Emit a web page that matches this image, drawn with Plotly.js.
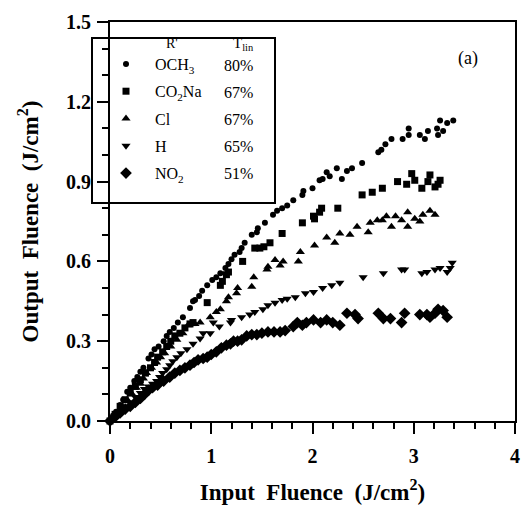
<!DOCTYPE html>
<html>
<head>
<meta charset="utf-8">
<script src="https://cdn.plot.ly/plotly-3.0.1.min.js"></script>
<style>html,body{margin:0;padding:0;background:#fff;}#chart{width:521px;height:512px;}</style>
</head>
<body>
<div id="chart"></div>
<script>
// ---- data ----
const och3X = [0,0.03,0.06,0.1,0.13,0.17,0.2,0.24,0.27,0.3,0.33,0.38,0.41,0.44,0.48,0.53,0.56,0.59,0.63,0.67,0.72,0.79,0.82,0.84,0.88,0.91,0.96,1.01,1.05,1.09,1.14,1.17,1.2,1.23,1.28,1.3,1.33,1.4,1.45,1.46,1.53,1.61,1.65,1.7,1.75,1.81,1.9,1.91,2.0,2.07,2.1,2.14,2.17,2.24,2.29,2.34,2.39,2.49,2.65,2.68,2.72,2.78,2.89,2.95,2.95,3.06,3.11,3.14,3.23,3.24,3.26,3.29,3.33,3.39];
const och3Y = [0,0.02,0.035,0.06,0.08,0.11,0.125,0.15,0.165,0.185,0.2,0.235,0.25,0.27,0.28,0.3,0.32,0.335,0.35,0.37,0.39,0.425,0.45,0.455,0.47,0.49,0.51,0.53,0.54,0.555,0.575,0.59,0.608,0.625,0.635,0.65,0.67,0.7,0.71,0.725,0.745,0.775,0.79,0.8,0.81,0.83,0.85,0.865,0.875,0.905,0.91,0.935,0.92,0.95,0.91,0.94,0.95,0.97,1.01,1.02,1.04,1.06,1.06,1.075,1.1,1.075,1.06,1.09,1.1,1.075,1.13,1.09,1.12,1.13];

const co2naX = [0,0.05,0.1,0.15,0.2,0.25,0.3,0.35,0.4,0.44,0.47,0.52,0.56,0.6,0.64,0.69,0.74,0.79,0.82,0.96,1.09,1.11,1.15,1.17,1.31,1.43,1.48,1.52,1.58,1.7,1.9,2.01,2.02,2.07,2.09,2.25,2.49,2.59,2.69,2.84,2.93,2.98,3.01,3.08,3.14,3.16,3.21,3.24,3.26];
const co2naY = [0,0.025,0.055,0.08,0.105,0.13,0.155,0.18,0.2,0.22,0.24,0.26,0.28,0.3,0.32,0.33,0.35,0.365,0.37,0.445,0.51,0.525,0.55,0.56,0.6,0.65,0.65,0.655,0.67,0.705,0.745,0.77,0.76,0.785,0.8,0.8,0.85,0.86,0.875,0.9,0.89,0.93,0.905,0.875,0.9,0.925,0.88,0.89,0.905];

const clX = [0,0.06,0.12,0.17,0.21,0.26,0.3,0.33,0.36,0.41,0.46,0.5,0.54,0.6,0.66,0.72,0.77,0.84,0.89,0.99,1.05,1.09,1.15,1.17,1.25,1.26,1.4,1.42,1.55,1.56,1.63,1.68,1.71,1.86,1.88,2.02,2.14,2.22,2.27,2.37,2.44,2.55,2.57,2.64,2.69,2.73,2.78,2.82,2.88,2.94,2.94,3.01,3.06,3.09,3.16,3.21];
const clY = [0,0.03,0.055,0.08,0.105,0.125,0.14,0.16,0.18,0.2,0.22,0.24,0.255,0.28,0.305,0.33,0.36,0.365,0.37,0.39,0.41,0.42,0.45,0.465,0.48,0.5,0.505,0.54,0.57,0.58,0.605,0.585,0.6,0.6,0.635,0.66,0.69,0.67,0.705,0.7,0.73,0.71,0.745,0.755,0.755,0.77,0.73,0.77,0.755,0.73,0.785,0.76,0.75,0.775,0.79,0.775];

const hX = [0,0.05,0.1,0.15,0.2,0.25,0.3,0.34,0.38,0.42,0.46,0.49,0.52,0.56,0.59,0.62,0.66,0.7,0.76,0.82,0.89,0.92,0.99,1.02,1.08,1.19,1.2,1.3,1.38,1.43,1.51,1.56,1.63,1.7,1.75,1.83,1.93,2.01,2.1,2.19,2.27,2.5,2.7,2.88,2.91,3.08,3.13,3.21,3.26,3.33,3.36,3.38];
const hY = [0,0.02,0.035,0.05,0.07,0.09,0.105,0.12,0.13,0.14,0.15,0.165,0.18,0.195,0.21,0.225,0.24,0.255,0.27,0.29,0.31,0.33,0.33,0.37,0.355,0.37,0.38,0.39,0.4,0.41,0.42,0.435,0.445,0.455,0.46,0.465,0.48,0.485,0.5,0.51,0.52,0.54,0.555,0.57,0.57,0.555,0.56,0.57,0.575,0.56,0.575,0.595];

const no2X = [0,0.05,0.1,0.15,0.2,0.25,0.3,0.34,0.38,0.42,0.47,0.53,0.59,0.64,0.69,0.74,0.79,0.83,0.87,0.92,0.96,1.0,1.05,1.1,1.15,1.19,1.22,1.26,1.3,1.35,1.4,1.45,1.5,1.56,1.62,1.68,1.73,1.81,1.85,1.9,1.94,2.01,2.08,2.14,2.2,2.27,2.34,2.42,2.45,2.65,2.7,2.77,2.88,2.91,3.06,3.13,3.16,3.21,3.24,3.29,3.33];
const no2Y = [0,0.015,0.03,0.045,0.055,0.07,0.085,0.1,0.115,0.125,0.135,0.15,0.165,0.18,0.19,0.2,0.21,0.22,0.23,0.235,0.24,0.25,0.26,0.275,0.285,0.29,0.3,0.3,0.305,0.32,0.325,0.325,0.33,0.335,0.335,0.335,0.34,0.355,0.37,0.36,0.37,0.38,0.37,0.38,0.37,0.36,0.405,0.4,0.385,0.405,0.385,0.385,0.37,0.405,0.4,0.4,0.39,0.405,0.42,0.415,0.39];

const seriesNames = ['OCH<sub>3</sub>', 'CO<sub>2</sub>Na', 'Cl', 'H', 'NO<sub>2</sub>'];
const tlinLabels = ['80%', '67%', '67%', '65%', '51%'];
const legendHeader = ["R'", 'T<sub>lin</sub>'];
const xTickVals = [0, 1, 2, 3, 4];
const yTickVals = [0, 0.3, 0.6, 0.9, 1.2, 1.5];

// ---- styles ----
const serif = '"Times New Roman", "Liberation Serif", serif';
const symbols = ['circle', 'square', 'triangle-up', 'triangle-down', 'diamond'];
const sizes = [6, 7, 8, 8, 9];
const xs = [och3X, co2naX, clX, hX, no2X];
const ys = [och3Y, co2naY, clY, hY, no2Y];

const traces = xs.map((x, i) => ({
  type: 'scatter', mode: 'markers', x: x, y: ys[i], name: seriesNames[i],
  legendgroup: 'g' + i, cliponaxis: false,
  marker: {symbol: symbols[i], size: sizes[i], color: '#000', line: {width: 0}}
}));

// plot area in pixels: x 110..515, y 22..421
const L = 110, R = 515, T = 22, B = 421;
const px = v => (v - L) / (R - L);
const py = v => (B - v) / (B - T);

const annotations = [];
annotations.push({xref: 'paper', yref: 'paper', x: px(172), y: py(43), text: legendHeader[0], showarrow: false,
  font: {family: serif, size: 14, color: '#000'}, xanchor: 'center', yanchor: 'middle'});
annotations.push({xref: 'paper', yref: 'paper', x: px(243), y: py(44), text: legendHeader[1], showarrow: false,
  font: {family: serif, size: 15, color: '#000'}, xanchor: 'center', yanchor: 'middle'});
const rowY = [65, 92, 119, 146, 173];
tlinLabels.forEach((t, i) => annotations.push({xref: 'paper', yref: 'paper', x: px(255), y: py(rowY[i]), text: t,
  showarrow: false, font: {family: serif, size: 16, color: '#000'}, xanchor: 'right', yanchor: 'middle'}));
annotations.push({xref: 'paper', yref: 'paper', x: px(468), y: py(58), text: '(a)', showarrow: false,
  font: {family: serif, size: 18, color: '#000'}, xanchor: 'center', yanchor: 'middle'});

const axisCommon = {
  showline: true, linewidth: 2, linecolor: '#000', mirror: true,
  ticks: 'outside', ticklen: 11, tickwidth: 2, tickcolor: '#000',
  showgrid: false, zeroline: false, fixedrange: true,
  tickfont: {family: serif, size: 20, color: '#000', weight: 'bold'}
};

const layout = {
  width: 521, height: 512,
  margin: {l: L, r: 521 - R, t: T, b: 512 - B},
  paper_bgcolor: '#fff', plot_bgcolor: '#fff',
  showlegend: true,
  legend: {x: px(97), y: py(47), xanchor: 'left', yanchor: 'top', bgcolor: 'rgba(0,0,0,0)', borderwidth: 0,
    font: {family: serif, size: 16, color: '#000'}, tracegroupgap: 3.5, itemwidth: 48, itemclick: false},
  xaxis: Object.assign({}, axisCommon, {
    range: [0, 4], tickvals: xTickVals, ticktext: xTickVals.map(String), ticklabelstandoff: 5,
    minor: {dtick: 0.2, ticks: 'outside', ticklen: 6, tickwidth: 2, tickcolor: '#000'},
    title: {text: 'Input\u00a0\u00a0Fluence\u00a0\u00a0(J/cm<sup>2</sup>)', standoff: 18,
      font: {family: serif, size: 23, color: '#000', weight: 'bold'}}
  }),
  yaxis: Object.assign({}, axisCommon, {
    range: [0, 1.5], tickvals: yTickVals, ticktext: yTickVals.map(v => v.toFixed(1)), ticklabelstandoff: 2,
    minor: {dtick: 0.1, ticks: 'outside', ticklen: 6, tickwidth: 2, tickcolor: '#000'},
    title: {text: 'Output\u00a0\u00a0Fluence\u00a0\u00a0(J/cm<sup>2</sup>)', standoff: 21,
      font: {family: serif, size: 23, color: '#000', weight: 'bold'}}
  }),
  shapes: [{type: 'rect', xref: 'paper', yref: 'paper', x0: px(92), x1: px(275), y0: py(203), y1: py(38),
    line: {color: '#000', width: 2}, fillcolor: 'rgba(0,0,0,0)', layer: 'above'}],
  annotations: annotations
};

Plotly.newPlot('chart', traces, layout, {displayModeBar: false, staticPlot: true});
</script>
</body>
</html>
